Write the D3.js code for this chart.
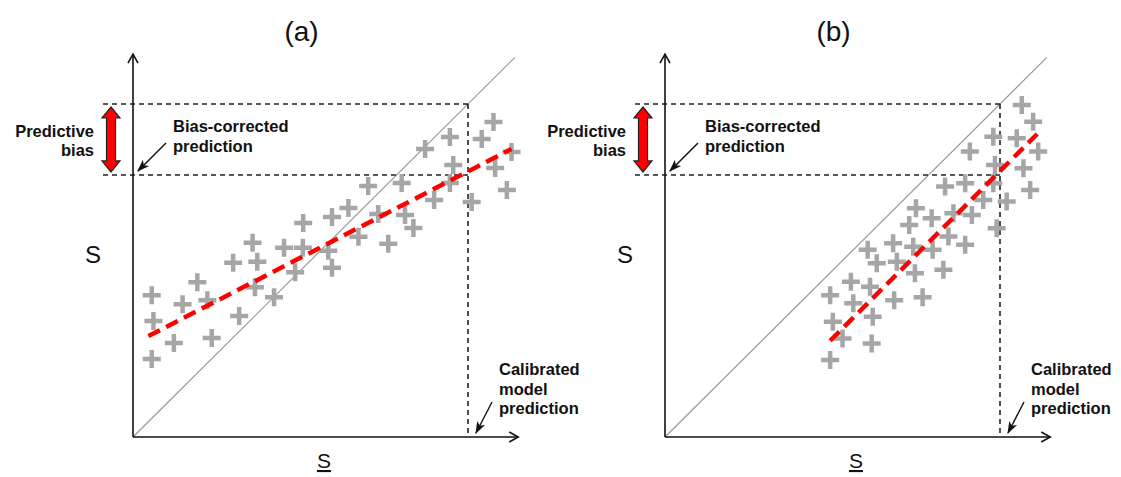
<!DOCTYPE html>
<html lang="en">
<head>
<meta charset="UTF-8">
<title>Predictive bias</title>
<script src="https://d3js.org/d3.v7.min.js"></script>
<style>
  body { margin: 0; background: #fff; }
  text { font-family: "Liberation Sans", Arial, sans-serif; }
</style>
</head>
<body>
<div id="chart"></div>
<script>
// scatter points, in axis units (the calibrated prediction sits at x = 10)
const pointsA = [
  [0.56,4.26],[0.61,3.48],[0.56,2.34],[1.48,3.99],[1.22,2.82],[1.92,4.65],[2.22,4.11],[2.35,2.97],
  [2.99,5.23],[3.17,3.63],[3.57,5.83],[3.71,5.26],[3.64,4.50],[4.21,4.20],[4.51,5.68],[4.84,4.95],
  [5.08,6.43],[5.07,5.68],[5.94,6.61],[5.83,5.59],[5.94,5.08],[6.43,6.88],[6.73,6.01],[7.02,7.54],
  [7.32,6.70],[7.62,5.80],[8.02,7.63],[8.12,6.67],[8.37,6.28],[8.72,8.65],[8.99,7.12],[9.46,9.01],
  [9.56,8.17],[9.46,7.63],[10.11,7.06],[10.41,8.95],[10.76,9.46],[10.81,8.08],[11.16,7.42],[11.30,8.56]
];
const pointsB = [
  [4.93,2.31],[5.01,3.46],[5.30,2.96],[4.93,4.26],[5.55,4.66],[5.62,4.02],[6.12,4.51],[6.20,3.61],
  [6.17,2.81],[6.05,5.62],[6.32,5.22],[6.81,5.82],[6.92,5.26],[6.84,4.11],[7.46,4.92],[7.41,5.71],
  [7.69,4.20],[7.29,6.37],[7.49,6.87],[7.96,6.57],[7.99,5.62],[8.31,5.02],[8.46,6.02],[8.96,5.77],
  [8.61,6.72],[8.36,7.52],[8.96,7.62],[9.16,6.67],[9.50,7.12],[9.10,8.57],[9.80,9.02],[9.80,7.62],
  [9.90,6.27],[9.85,8.17],[10.20,7.07],[10.50,8.97],[10.65,9.97],[10.99,9.47],[10.70,8.07],[11.14,8.57],
  [10.90,7.42]
];
// fitted (red dashed) lines, start and end
const fitA = [[0.46,3.03],[11.30,8.65]];
const fitB = [[4.93,2.89],[11.11,9.10]];

const panelLabels = ["(a)", "(b)"];
const calibrated = 10;      // calibrated model prediction
const biasCorrected = 7.87; // bias-corrected prediction
const axisMax = 11.5;
const diagMax = 11.4;

const W = 1121, H = 477;
const svg = d3.select("#chart").append("svg")
  .attr("width", W).attr("height", H);

const defs = svg.append("defs");
defs.append("marker")
  .attr("id", "head")
  .attr("viewBox", "0 0 10 10")
  .attr("refX", 9).attr("refY", 5)
  .attr("markerWidth", 9).attr("markerHeight", 9)
  .attr("orient", "auto")
  .append("path")
  .attr("d", "M0,1.5 L10,5 L0,8.5 L2.5,5 Z")
  .attr("fill", "#111");

function drawPanel(ox, pts, fit, label) {
  const x = d3.scaleLinear().domain([0, 10]).range([ox, ox + 335]);
  const y = d3.scaleLinear().domain([0, 10]).range([437, 104]);
  const g = svg.append("g");

  // 1:1 line
  g.append("line")
    .attr("x1", x(0)).attr("y1", y(0))
    .attr("x2", x(diagMax)).attr("y2", y(diagMax))
    .attr("stroke", "#999").attr("stroke-width", 1.2);

  // dashed guides
  const dash = g.append("g")
    .attr("stroke", "#222").attr("stroke-width", 1.6)
    .attr("stroke-dasharray", "5,4").attr("fill", "none");
  dash.append("line")
    .attr("x1", x(0) - 30).attr("x2", x(calibrated))
    .attr("y1", y(calibrated)).attr("y2", y(calibrated));
  dash.append("line")
    .attr("x1", x(0) - 30).attr("x2", x(calibrated))
    .attr("y1", y(biasCorrected)).attr("y2", y(biasCorrected));
  dash.append("line")
    .attr("x1", x(calibrated)).attr("x2", x(calibrated))
    .attr("y1", y(calibrated)).attr("y2", y(0));

  // crosses
  g.append("g").selectAll("path")
    .data(pts)
    .join("path")
    .attr("transform", d => `translate(${x(d[0])},${y(d[1])})`)
    .attr("d", "M-9,0H9M0,-9V9")
    .attr("stroke", "#a6a6a6").attr("stroke-width", 4.5);

  // fitted line
  g.append("line")
    .attr("x1", x(fit[0][0])).attr("y1", y(fit[0][1]))
    .attr("x2", x(fit[1][0])).attr("y2", y(fit[1][1]))
    .attr("stroke", "#ff0000").attr("stroke-width", 4.5)
    .attr("stroke-dasharray", "13,7");

  // axes
  const ax = g.append("g").attr("stroke", "#111").attr("stroke-width", 1.6).attr("fill", "none");
  ax.append("line").attr("x1", x(0)).attr("y1", y(0)).attr("x2", x(0)).attr("y2", y(axisMax));
  ax.append("line").attr("x1", x(0)).attr("y1", y(0)).attr("x2", x(axisMax)).attr("y2", y(0));
  ax.append("path").attr("d", `M${x(0) - 5},${y(axisMax) + 9}L${x(0)},${y(axisMax)}L${x(0) + 5},${y(axisMax) + 9}`);
  ax.append("path").attr("d", `M${x(axisMax) - 9},${y(0) - 5}L${x(axisMax)},${y(0)}L${x(axisMax) - 9},${y(0) + 5}`);

  // double-headed bias arrow
  const bx = x(0) - 22, top = y(calibrated) + 3, bot = y(biasCorrected) - 3;
  g.append("path")
    .attr("d", `M${bx},${top} L${bx + 9},${top + 11} L${bx + 4.5},${top + 11} L${bx + 4.5},${bot - 11}` +
               ` L${bx + 9},${bot - 11} L${bx},${bot} L${bx - 9},${bot - 11} L${bx - 4.5},${bot - 11}` +
               ` L${bx - 4.5},${top + 11} L${bx - 9},${top + 11} Z`)
    .attr("fill", "#ff0000").attr("stroke", "#222").attr("stroke-width", 1.2);

  const bold = g.append("g").attr("font-weight", "bold").attr("font-size", 16.5).attr("fill", "#111");
  bold.append("text").attr("x", x(0) - 39).attr("y", 137).attr("text-anchor", "end").text("Predictive");
  bold.append("text").attr("x", x(0) - 39).attr("y", 156).attr("text-anchor", "end").text("bias");
  bold.append("text").attr("x", x(0) + 40).attr("y", 132).text("Bias-corrected");
  bold.append("text").attr("x", x(0) + 40).attr("y", 152).text("prediction");
  bold.append("text").attr("x", x(calibrated) + 31).attr("y", 375).text("Calibrated");
  bold.append("text").attr("x", x(calibrated) + 31).attr("y", 395).text("model");
  bold.append("text").attr("x", x(calibrated) + 31).attr("y", 414).text("prediction");

  // pointer arrows
  g.append("line")
    .attr("x1", x(0) + 33).attr("y1", 143)
    .attr("x2", x(0) + 5).attr("y2", y(biasCorrected) - 4)
    .attr("stroke", "#111").attr("stroke-width", 1.4)
    .attr("marker-end", "url(#head)");
  g.append("line")
    .attr("x1", x(calibrated) + 24).attr("y1", 402)
    .attr("x2", x(calibrated) + 8).attr("y2", y(0) - 4)
    .attr("stroke", "#111").attr("stroke-width", 1.4)
    .attr("marker-end", "url(#head)");

  // panel title and axis labels
  g.append("text").attr("x", x(5) + 1).attr("y", 41)
    .attr("text-anchor", "middle").attr("font-size", 28).attr("fill", "#111").text(label);
  g.append("text").attr("x", x(0) - 40).attr("y", 263)
    .attr("text-anchor", "middle").attr("font-size", 24).attr("fill", "#111").text("S");
  g.append("text").attr("x", x(5.7)).attr("y", 468)
    .attr("text-anchor", "middle").attr("font-size", 21).attr("fill", "#111")
    .attr("text-decoration", "underline").text("S");
}

drawPanel(133, pointsA, fitA, panelLabels[0]);
drawPanel(665, pointsB, fitB, panelLabels[1]);
</script>
</body>
</html>
